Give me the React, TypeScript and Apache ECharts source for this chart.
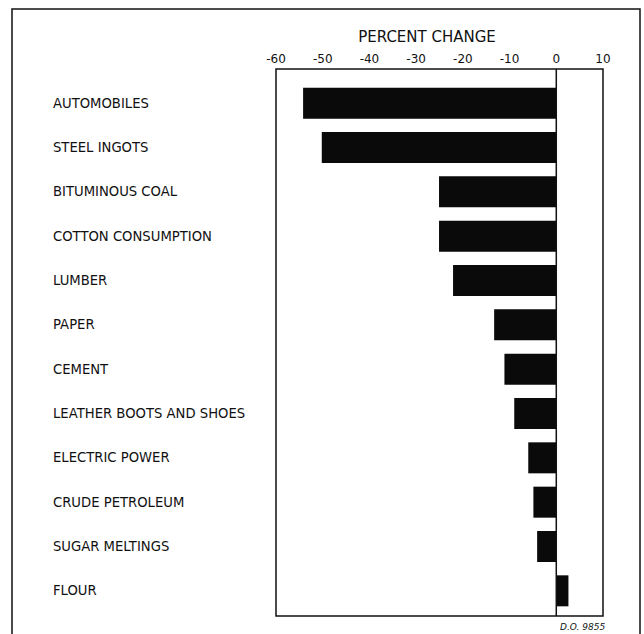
import React, { useEffect, useRef } from "react";
import * as echarts from "echarts";

const categories = [
  "AUTOMOBILES",
  "STEEL INGOTS",
  "BITUMINOUS COAL",
  "COTTON CONSUMPTION",
  "LUMBER",
  "PAPER",
  "CEMENT",
  "LEATHER BOOTS AND SHOES",
  "ELECTRIC POWER",
  "CRUDE PETROLEUM",
  "SUGAR MELTINGS",
  "FLOUR",
];
const percentChange = [-54.2, -50.2, -25.1, -25.1, -22.1, -13.3, -11.1, -9.0, -6.0, -4.9, -4.1, 2.6];
const axisMin = -60;
const axisMax = 10;
const axisStep = 10;
const titleText = "PERCENT CHANGE";
const sourceNote = "D.O. 9855";

export default function App() {
  const ref = useRef<HTMLDivElement>(null);
  useEffect(() => {
    if (!ref.current) return;
    const chart = echarts.init(ref.current, undefined, { renderer: "svg" });
    const font = "DejaVu Sans";
    chart.setOption({
      animation: false,
      backgroundColor: "#ffffff",
      grid: [
        { left: 276, right: 41, top: 69, bottom: 18, show: true, borderColor: "#111", borderWidth: 1.5, backgroundColor: "transparent" },
        { left: 276, right: 41, top: 81, bottom: 21, show: false },
      ],
      xAxis: [
        {
          gridIndex: 0,
          type: "value",
          position: "top",
          min: axisMin,
          max: axisMax,
          interval: axisStep,
          axisLine: { show: false },
          axisTick: { show: false },
          splitLine: { show: false },
          axisLabel: { margin: 4, fontSize: 12, color: "#111", fontFamily: font },
        },
        {
          gridIndex: 1,
          type: "value",
          min: axisMin,
          max: axisMax,
          interval: axisStep,
          show: false,
          splitLine: { show: false },
        },
      ],
      yAxis: [
        { gridIndex: 0, type: "value", min: 0, max: 1, show: false, splitLine: { show: false } },
        {
          gridIndex: 1,
          type: "category",
          data: categories,
          inverse: true,
          axisLine: { show: false },
          axisTick: { show: false },
          axisLabel: { align: "left", margin: 223, fontSize: 13.2, color: "#111", fontFamily: font },
        },
      ],
      series: [
        {
          type: "line",
          xAxisIndex: 0,
          yAxisIndex: 0,
          data: [[0, 0], [0, 1]],
          showSymbol: false,
          lineStyle: { color: "#111", width: 1.5 },
          silent: true,
        },
        {
          type: "bar",
          xAxisIndex: 1,
          yAxisIndex: 1,
          data: percentChange,
          barWidth: 31,
          itemStyle: { color: "#0a0a0a" },
        },
      ],
      graphic: [
        {
          type: "rect",
          shape: { x: 12, y: 9, width: 628, height: 700 },
          style: { fill: "none", stroke: "#111", lineWidth: 1.5 },
          silent: true,
        },
        {
          type: "text",
          x: 427,
          y: 37,
          style: {
            text: titleText,
            fontSize: 15,
            fontFamily: font,
            fill: "#111",
            textAlign: "center",
            textVerticalAlign: "middle",
          },
        },
        {
          type: "text",
          x: 560,
          y: 627,
          style: {
            text: sourceNote,
            fontSize: 9,
            fontStyle: "italic",
            fontFamily: font,
            fill: "#111",
            textAlign: "left",
            textVerticalAlign: "middle",
          },
        },
      ],
    });
    return () => chart.dispose();
  }, []);
  return <div ref={ref} style={{ position: "fixed", left: 0, top: 0, width: 644, height: 634 }} />;
}
